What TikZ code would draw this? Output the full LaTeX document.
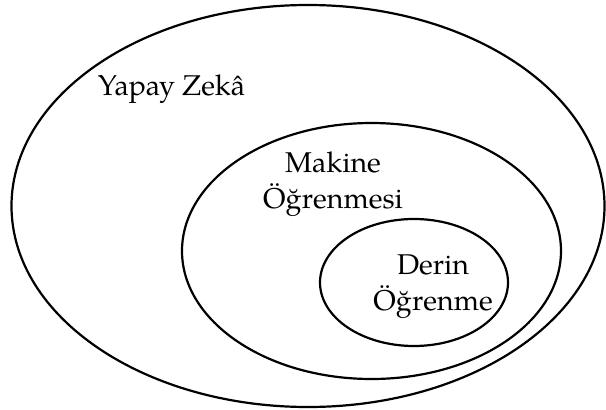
\documentclass[tikz,border=0pt]{standalone}
\usepackage{fontspec}
\setmainfont{TeX Gyre Pagella}
\begin{document}
\begin{tikzpicture}[x=1pt,y=-1pt,
  setline/.style={draw=black, line width=2.2pt},
  setlabel/.style={font=\fontsize{28.6}{36}\selectfont, align=center, inner sep=0pt, anchor=base}]
\useasboundingbox (0,0) rectangle (606,410);
% nested sets
\draw[setline] (308,206) ellipse [x radius=296.5pt, y radius=201pt];
\draw[setline] (371.5,251) ellipse [x radius=189.5pt, y radius=128pt];
\draw[setline] (414,282.5) ellipse [x radius=94pt, y radius=63.5pt];
% labels (anchor base = baseline of the last line)
\node[setlabel] (ai) at (171.5,95) {Yapay Zekâ};
\node[setlabel] (ml) at (333,208) {Makine\\Öğrenmesi};
\node[setlabel] (dl) at (433,310) {Derin\\Öğrenme};
\end{tikzpicture}
\end{document}
